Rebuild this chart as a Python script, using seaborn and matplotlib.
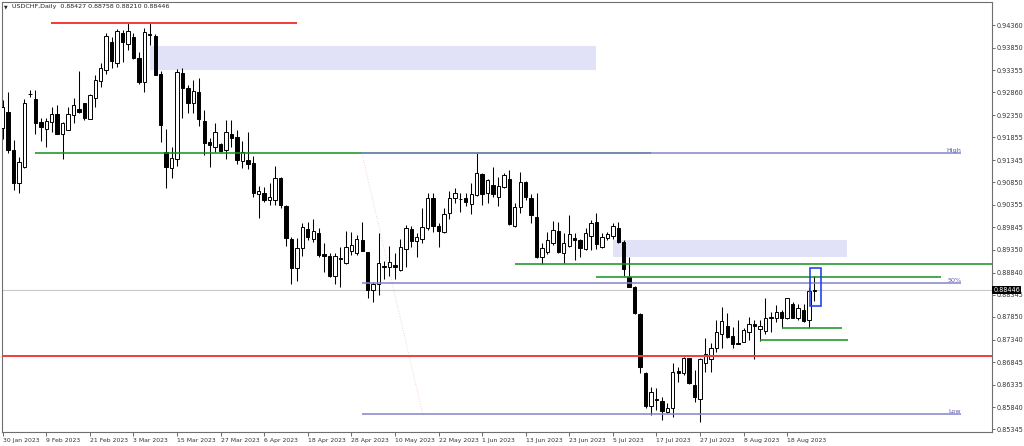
import numpy as np
import pandas as pd
import matplotlib
matplotlib.use("Agg")
import matplotlib.pyplot as plt
import matplotlib.transforms as mtransforms
from matplotlib.patches import Rectangle
import seaborn as sns

# ---------------- data ----------------
dates = pd.bdate_range("2023-01-30", "2023-08-25")

opens = [0.92057, 0.92427, 0.91573, 0.90844, 0.91187, 0.92822, 0.92704, 0.92191, 0.92035, 0.92204,
         0.92369, 0.91930, 0.92019, 0.92360, 0.92487, 0.92614, 0.92271, 0.92739, 0.93112, 0.93357,
         0.93975, 0.93506, 0.94175, 0.93930, 0.94100, 0.93631, 0.93083, 0.94160, 0.94115, 0.93268,
         0.91522, 0.91165, 0.91366, 0.93297, 0.92949, 0.92614, 0.92873, 0.92226, 0.91745, 0.91647,
         0.91707, 0.91573, 0.91930, 0.91870, 0.91328, 0.91350, 0.91290, 0.90592, 0.90621, 0.90458,
         0.90458, 0.90955, 0.90331, 0.89588, 0.88948, 0.89381, 0.89805, 0.89582, 0.89729, 0.89254,
         0.89216, 0.88770, 0.89158, 0.89046, 0.89327, 0.89269, 0.89566, 0.89292, 0.88451, 0.88585,
         0.88993, 0.88957, 0.89008, 0.88897, 0.89365, 0.89805, 0.89544, 0.89582, 0.89827, 0.90509,
         0.89878, 0.89751, 0.90161, 0.90496, 0.90480, 0.90509, 0.90362, 0.90569, 0.91038, 0.90607,
         0.90792, 0.90532, 0.90741, 0.90926, 0.89878, 0.90309, 0.90853, 0.90496, 0.90086, 0.89194,
         0.89292, 0.89506, 0.89773, 0.89283, 0.89432, 0.89604, 0.89566, 0.89359, 0.89655, 0.89961,
         0.89403, 0.89617, 0.89655, 0.89827, 0.89528, 0.88748, 0.88525, 0.87916, 0.86607, 0.85864,
         0.86020, 0.85982, 0.85737, 0.85813, 0.86645, 0.86593, 0.86928, 0.86332, 0.86020, 0.86816,
         0.86912, 0.87164, 0.87463, 0.87655, 0.87432, 0.87276, 0.87298, 0.87521, 0.87686, 0.87581,
         0.87537, 0.87856, 0.87820, 0.87954, 0.87833, 0.88139, 0.87833, 0.88005, 0.87782, 0.88427]

highs = [0.92688, 0.92873, 0.91796, 0.91424, 0.92704, 0.92911, 0.92911, 0.92280, 0.92280, 0.92539,
         0.92576, 0.92204, 0.92539, 0.92726, 0.93335, 0.92621, 0.92822, 0.93245, 0.93506, 0.94175,
         0.94100, 0.94271, 0.94249, 0.94400, 0.94175, 0.93758, 0.94287, 0.94400, 0.94160, 0.93335,
         0.92041, 0.91647, 0.93379, 0.93395, 0.93022, 0.93134, 0.93185, 0.92465, 0.91834, 0.92182,
         0.91736, 0.92242, 0.92242, 0.92019, 0.91780, 0.91968, 0.91439, 0.90770, 0.90755, 0.90830,
         0.91210, 0.90971, 0.90346, 0.89640, 0.89604, 0.89952, 0.89974, 0.90034, 0.89827, 0.89492,
         0.89269, 0.89283, 0.89417, 0.89773, 0.89751, 0.89677, 0.89974, 0.89305, 0.88637, 0.89729,
         0.89104, 0.89432, 0.89269, 0.89582, 0.89900, 0.89878, 0.89715, 0.90273, 0.90621, 0.90621,
         0.89952, 0.90286, 0.90665, 0.90719, 0.90607, 0.90621, 0.90844, 0.91499, 0.91067, 0.90920,
         0.91201, 0.90978, 0.91067, 0.91127, 0.90384, 0.91089, 0.90888, 0.90592, 0.90607, 0.89492,
         0.89744, 0.89996, 0.89974, 0.89715, 0.90123, 0.89729, 0.89582, 0.89827, 0.90012, 0.90161,
         0.89715, 0.89751, 0.89938, 0.89974, 0.89566, 0.89180, 0.88540, 0.87945, 0.86620, 0.86295,
         0.86259, 0.86072, 0.85924, 0.86816, 0.86741, 0.86964, 0.86941, 0.86667, 0.86941, 0.87374,
         0.87262, 0.87782, 0.88079, 0.87931, 0.87633, 0.87782, 0.87610, 0.87856, 0.87782, 0.87782,
         0.88266, 0.87954, 0.88116, 0.88005, 0.88279, 0.88190, 0.88132, 0.88132, 0.88525, 0.88758]

lows = [0.91818, 0.91499, 0.90681, 0.90607, 0.91172, 0.92748, 0.91930, 0.91780, 0.91633, 0.91981,
        0.91919, 0.91372, 0.92008, 0.92168, 0.92391, 0.92242, 0.92264, 0.92539, 0.92985, 0.93268,
        0.93395, 0.93431, 0.93529, 0.93803, 0.93596, 0.93045, 0.92873, 0.93914, 0.93240, 0.91758,
        0.90726, 0.90942, 0.91223, 0.92280, 0.92391, 0.92405, 0.92108, 0.91461, 0.91201, 0.91535,
        0.91535, 0.91366, 0.91633, 0.91261, 0.91165, 0.91143, 0.90532, 0.90063, 0.90420, 0.90346,
        0.90346, 0.90273, 0.89432, 0.88585, 0.88652, 0.89216, 0.89566, 0.89528, 0.89194, 0.88859,
        0.88734, 0.88585, 0.88511, 0.89042, 0.89231, 0.89231, 0.89321, 0.88266, 0.88190, 0.88339,
        0.88690, 0.88763, 0.88690, 0.88875, 0.88971, 0.89403, 0.89194, 0.89492, 0.89789, 0.89751,
        0.89403, 0.89729, 0.90034, 0.90384, 0.90197, 0.90324, 0.90146, 0.90558, 0.90346, 0.90398,
        0.90532, 0.90324, 0.90719, 0.89900, 0.89849, 0.90175, 0.90458, 0.89938, 0.89158, 0.89031,
        0.89254, 0.89454, 0.89269, 0.89060, 0.89417, 0.89120, 0.89194, 0.89343, 0.89343, 0.89359,
        0.89381, 0.89566, 0.89582, 0.89510, 0.88763, 0.88511, 0.87920, 0.86593, 0.85813, 0.85663,
        0.85775, 0.85552, 0.85701, 0.85626, 0.86406, 0.86555, 0.86360, 0.85960, 0.85514, 0.86629,
        0.86629, 0.87075, 0.87151, 0.87374, 0.87151, 0.87240, 0.87284, 0.87336, 0.86912, 0.87314,
        0.87463, 0.87521, 0.87744, 0.87610, 0.87804, 0.87820, 0.87782, 0.87744, 0.87597, 0.88210]

closes = [0.92539, 0.91573, 0.90830, 0.91312, 0.92614, 0.92811, 0.92182, 0.92093, 0.92220, 0.92369,
          0.91930, 0.92168, 0.92376, 0.92583, 0.92427, 0.92280, 0.92793, 0.93134, 0.93408, 0.94115,
          0.93564, 0.94227, 0.93975, 0.94227, 0.93618, 0.93083, 0.94211, 0.94144, 0.93245, 0.92130,
          0.91187, 0.91401, 0.93319, 0.92949, 0.92614, 0.92895, 0.92258, 0.91736, 0.91691, 0.91981,
          0.91557, 0.91968, 0.91834, 0.91350, 0.91522, 0.91261, 0.90607, 0.90665, 0.90458, 0.90518,
          0.90955, 0.90346, 0.89617, 0.88935, 0.89381, 0.89849, 0.89640, 0.89767, 0.89231, 0.89209,
          0.88763, 0.89209, 0.89136, 0.89417, 0.89454, 0.89582, 0.89327, 0.88451, 0.88585, 0.89046,
          0.88971, 0.89069, 0.88971, 0.89403, 0.89827, 0.89550, 0.89640, 0.89849, 0.90509, 0.89878,
          0.89767, 0.90146, 0.90509, 0.90607, 0.90474, 0.90420, 0.90592, 0.91053, 0.90592, 0.90904,
          0.90592, 0.90777, 0.91015, 0.89923, 0.90295, 0.90866, 0.90532, 0.90123, 0.89180, 0.89381,
          0.89577, 0.89789, 0.89292, 0.89506, 0.89693, 0.89566, 0.89381, 0.89715, 0.89952, 0.89477,
          0.89626, 0.89693, 0.89878, 0.89528, 0.88913, 0.88525, 0.87931, 0.86741, 0.85864, 0.86183,
          0.85998, 0.85759, 0.85813, 0.86629, 0.86593, 0.86928, 0.86370, 0.86072, 0.86912, 0.87024,
          0.87151, 0.87508, 0.87760, 0.87410, 0.87240, 0.87247, 0.87559, 0.87686, 0.87655, 0.87648,
          0.87820, 0.87833, 0.87967, 0.87820, 0.88266, 0.87833, 0.88043, 0.87760, 0.88427, 0.88446]

date_labels = ["30 Jan 2023", "9 Feb 2023", "21 Feb 2023", "3 Mar 2023", "15 Mar 2023",
               "27 Mar 2023", "6 Apr 2023", "18 Apr 2023", "28 Apr 2023", "10 May 2023",
               "22 May 2023", "1 Jun 2023", "13 Jun 2023", "23 Jun 2023", "5 Jul 2023",
               "17 Jul 2023", "27 Jul 2023", "8 Aug 2023", "18 Aug 2023"]

price_ticks = [0.94360, 0.93850, 0.93355, 0.92860, 0.92350, 0.91855, 0.91345, 0.90850,
               0.90355, 0.89845, 0.89350, 0.88840, 0.88345, 0.87850, 0.87340, 0.86845,
               0.86335, 0.85840, 0.85345]

title_text = "USDCHF,Daily  0.88427 0.88758 0.88210 0.88446"
last_price = 0.88446

# drawn objects (levels in price, spans in bar index)
red_levels = [(0.94400, 8.9, 54.0), (0.86986, -1.0, 182.0)]
green_levels = [(0.91513, 5.9, 119.0), (0.89024, 94.0, 182.0), (0.88748, 108.9, 172.2),
                (0.87597, 143.0, 154.0), (0.87336, 139.0, 155.1)]
zones = [(27.0, 108.9, 0.93357, 0.93892), (112.0, 155.0, 0.89180, 0.89566)]
fib_high, fib_low = 0.91513, 0.85686
fib_x0, fib_x1, fib_diag_x1 = 65.9, 176.0, 77.1
highlight_box = (148.2, 150.3, 0.88095, 0.88949)

# ---------------- figure ----------------
sns.set_style("white")
plt.rcParams['font.family'] = ['DejaVu Sans']

df = pd.DataFrame({"date": dates, "open": opens, "high": highs, "low": lows, "close": closes})
df["idx"] = np.arange(len(df))
df["up"] = df["close"] >= df["open"]

W, H = 1024, 446
fig = plt.figure(figsize=(W / 100, H / 100), dpi=100)
fig.patch.set_facecolor("white")
x0, x1, ytop, ybot = 1.7, 992.0, 1.7, 432.3
ax = fig.add_axes([x0 / W, 1 - ybot / H, (x1 - x0) / W, (ybot - ytop) / H])
ax.set_facecolor("white")

# zones (behind candles)
for a, b, lo, hi in zones:
    ax.add_patch(Rectangle((a, lo), b - a, hi - lo, facecolor="#E1E1F7", edgecolor="none", zorder=1))

# grey last price line
ax.axhline(last_price, color="#C8C8C8", lw=0.8, zorder=1.5)

# candles
ax.vlines(df["idx"], df["low"], df["high"], color="black", lw=0.75, zorder=3)
body_lo = np.minimum(df["open"], df["close"])
body_h = np.maximum((df["close"] - df["open"]).abs(), 0.00002)
ax.bar(df["idx"], body_h, bottom=body_lo, width=0.62,
       color=np.where(df["up"], "white", "black"), edgecolor="black", linewidth=0.7, zorder=4)

# red lines
for lvl, a, b in red_levels:
    ax.hlines(lvl, a, b, color="#F23A3A", lw=1.4, zorder=5)
# green lines
for lvl, a, b in green_levels:
    ax.hlines(lvl, a, b, color="#14911E", lw=1.1, zorder=5)

# fibonacci
fib_col = "#8484CC"
fib_mid = (fib_high + fib_low) / 2
for lvl in (fib_high, fib_mid, fib_low):
    ax.hlines(lvl, fib_x0, fib_x1, color=fib_col, lw=1.1, zorder=5)
ax.plot([fib_x0, fib_diag_x1], [fib_high, fib_low], color="#F2C4C4", lw=0.6, ls=(0, (1, 2)), zorder=2)
for lvl, txt in ((fib_high, "High"), (fib_mid, "50%"), (fib_low, "Low")):
    ax.text(fib_x1, lvl, txt, ha="right", va="bottom", fontsize=4.6, color="#5A5AB4", zorder=6)

# highlight box
bx0, bx1, blo, bhi = highlight_box
ax.add_patch(Rectangle((bx0, blo), bx1 - bx0, bhi - blo, facecolor="none",
                       edgecolor="#2446F0", lw=1.2, zorder=6))

# axes
ax.set_xlim(-0.18, 181.6)
ax.set_ylim(0.85278, 0.94880)
ax.yaxis.tick_right()
ax.set_yticks(price_ticks)
ax.set_yticklabels([f"{v:.5f}" for v in price_ticks])
ax.set_xticks(df["idx"].iloc[::8].values)
ax.set_xticklabels(date_labels, ha="left")
ax.tick_params(axis="y", which="both", direction="out", length=2, width=0.5, pad=1.5,
               labelsize=4.7, colors="#333333", right=True, left=False)
ax.tick_params(axis="x", direction="out", length=3, width=0.5, pad=1.0,
               labelsize=4.4, colors="#333333", bottom=True)
for lab in ax.get_xticklabels():
    lab.set_horizontalalignment("left")
for s in ax.spines.values():
    s.set_color("#6E6E6E")
    s.set_linewidth(0.8)
ax.grid(False)

# last price tag on the axis
trans = mtransforms.blended_transform_factory(ax.transAxes, ax.transData)
ax.text(1.0015, last_price, f"{last_price:.5f}", transform=trans, ha="left", va="center",
        fontsize=4.7, color="white", clip_on=False, zorder=10,
        bbox=dict(facecolor="black", edgecolor="none", pad=0.9))

# title
fig.text(4.0 / W, 1 - 6.5 / H, "\u25BC", fontsize=3.4, va="center", ha="left", color="#222222")
fig.text(12.5 / W, 1 - 6.5 / H, title_text, fontsize=4.6, va="center", ha="left", color="#222222")

fig.savefig("out.png", dpi=100, facecolor="white")
